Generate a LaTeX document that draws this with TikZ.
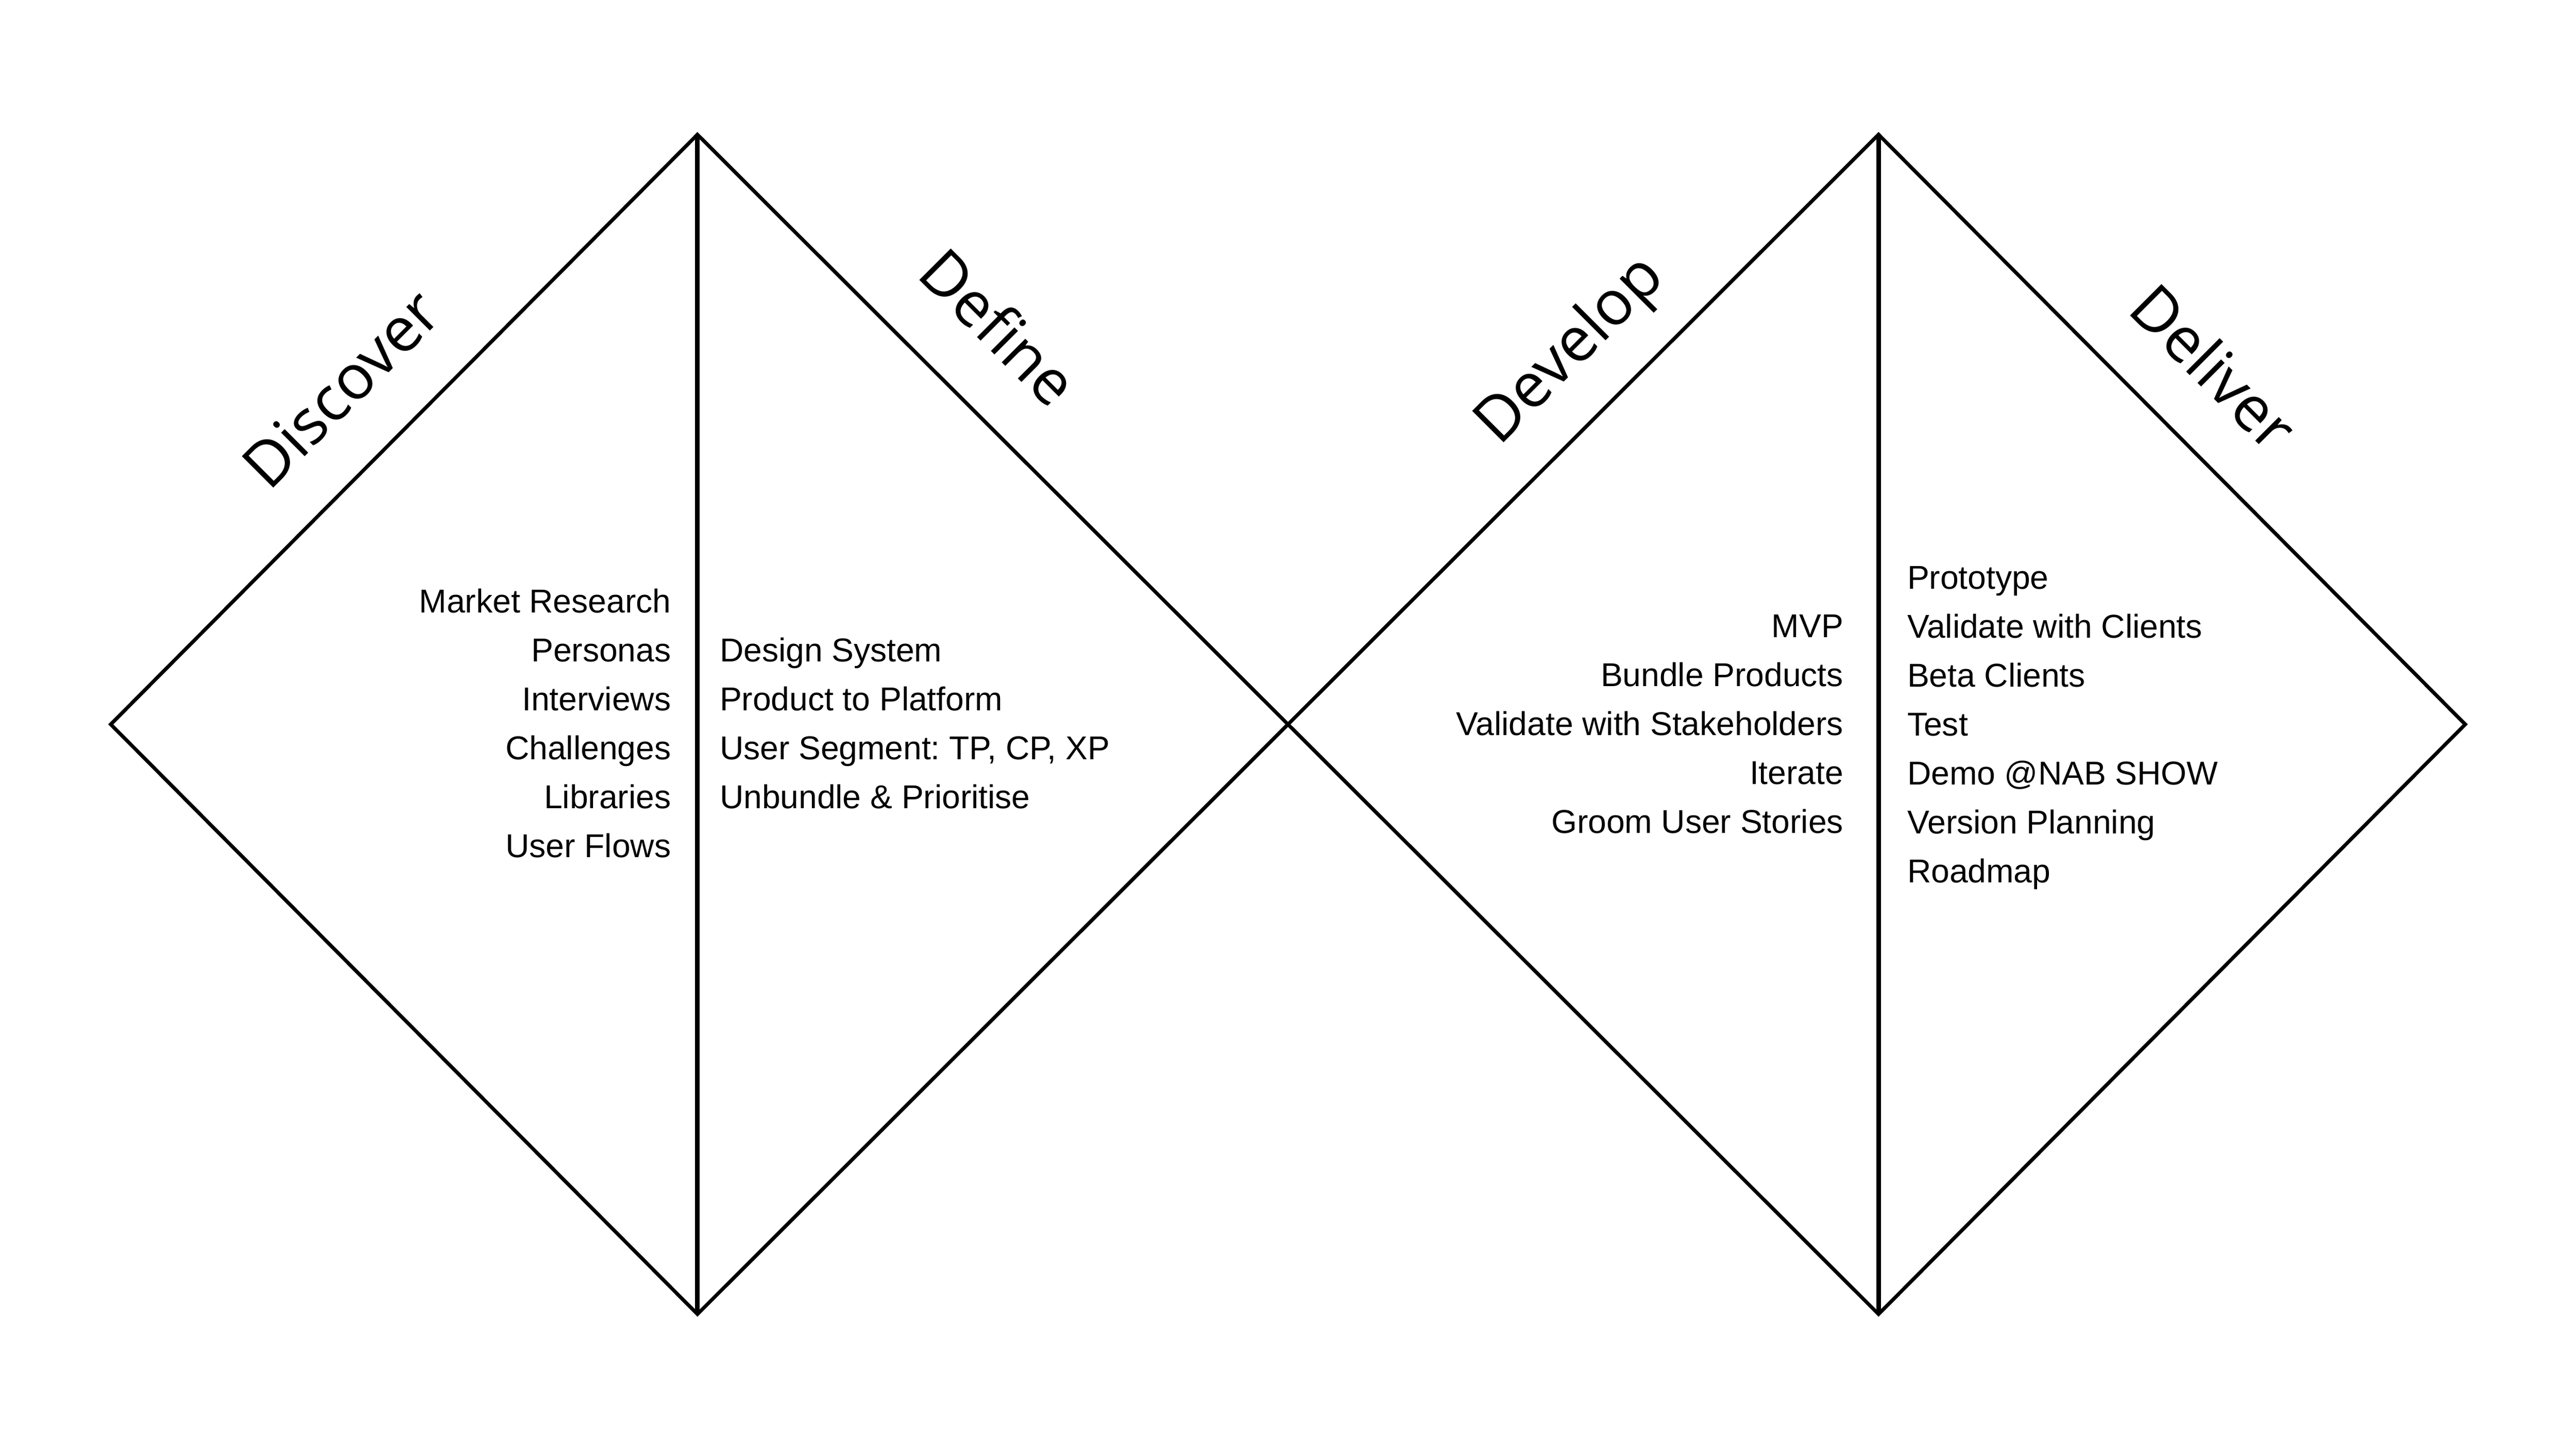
\documentclass[tikz,border=0pt]{standalone}
\usepackage{fontspec}
\setmainfont{Liberation Sans}
\newfontfamily\phasefont{Open Sans}
\usetikzlibrary{positioning}
\frenchspacing

\tikzset{
	outline/.style={line width=1.6pt, line join=miter},
	split/.style={line width=2pt},
	item/.style={inner sep=0pt, font=\fontsize{14.6}{17}\selectfont},
	phase/.style={inner sep=0pt, anchor=base, font=\phasefont\fontsize{27.5}{30}\selectfont},
}

\begin{document}
\begin{tikzpicture}
	\useasboundingbox (-20,-11.25) rectangle (20,11.25);
	% corners of the two diamonds
	\coordinate (dl) at (-18.28,0);
	\coordinate (dt) at (-9.17,9.16);
	\coordinate (db) at (-9.17,-9.16);
	\coordinate (mid) at (0,0);
	\coordinate (vt) at (9.17,9.16);
	\coordinate (vb) at (9.17,-9.16);
	\coordinate (vr) at (18.28,0);
	\draw[outline] (dl) -- (dt) -- (mid) -- (db) -- cycle;
	\draw[outline] (mid) -- (vt) -- (vr) -- (vb) -- cycle;
	\draw[split] (dt) -- (db);
	\draw[split] (vt) -- (vb);
	% phase names along the edges
	\node[phase, rotate=45] (discover) at (-14.46,4.97) {Discover};
	\node[phase, rotate=-45] (define) at (-4.74,5.92) {Define};
	\node[phase, rotate=45] (develop) at (4.58,5.61) {Develop};
	\node[phase, rotate=-45] (deliver) at (14.13,5.30) {Deliver};
	% activities
	\foreach \txt [count=\i] in {Market Research, Personas, Interviews, Challenges, Libraries, User Flows}
		\node[item, anchor=base east] (disc\i) at (-9.575,{1.735-(\i-1)*0.76}) {\txt};
	\foreach \txt [count=\i] in {Design System, Product to Platform, {User Segment: TP, CP, XP}, Unbundle \& Prioritise}
		\node[item, anchor=base west] (defn\i) at (-8.83,{0.97-(\i-1)*0.76}) {\txt};
	\foreach \txt [count=\i] in {MVP, Bundle Products, Validate with Stakeholders, Iterate, Groom User Stories}
		\node[item, anchor=base east] (devl\i) at (8.63,{1.35-(\i-1)*0.76}) {\txt};
	\foreach \txt [count=\i] in {Prototype, Validate with Clients, Beta Clients, Test, Demo @NAB SHOW, Version Planning, Roadmap}
		\node[item, anchor=base west] (delv\i) at (9.61,{2.10-(\i-1)*0.76}) {\txt};
\end{tikzpicture}
\end{document}
